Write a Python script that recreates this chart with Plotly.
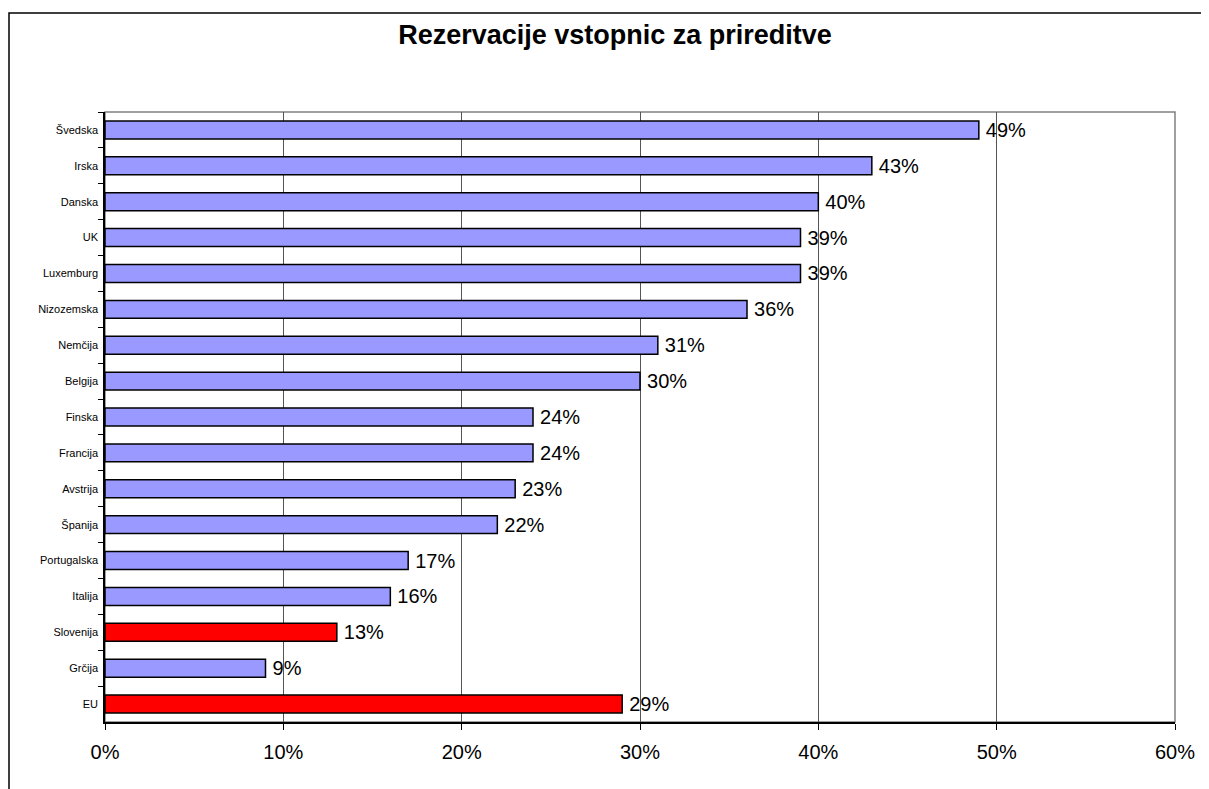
import plotly.graph_objects as go

categories = ["Švedska", "Irska", "Danska", "UK", "Luxemburg", "Nizozemska", "Nemčija",
              "Belgija", "Finska", "Francija", "Avstrija", "Španija", "Portugalska",
              "Italija", "Slovenija", "Grčija", "EU"]
values = [49, 43, 40, 39, 39, 36, 31, 30, 24, 24, 23, 22, 17, 16, 13, 9, 29]
highlight = ["Slovenija", "EU"]
x_ticks = [0, 10, 20, 30, 40, 50, 60]

FONT = "Arial, 'Liberation Sans', sans-serif"
BLUE = "#9999FF"
RED = "#FF0000"

colors = [RED if c in highlight else BLUE for c in categories]

# page body has an 8px default margin
OFF = 8
W, H = 1209 - OFF, 789 - OFF
L, T = 105 - OFF, 112 - OFF
R = W - (1175 - OFF)
B = H - (722 - OFF)
pw, ph = W - L - R, H - T - B

fig = go.Figure()
fig.add_trace(go.Bar(
    y=categories,
    x=[v / 100 for v in values],
    orientation="h",
    marker=dict(color=colors, line=dict(color="black", width=1.5)),
    text=[f"\u2009{v}%" for v in values],
    textposition="outside",
    constraintext="none",
    cliponaxis=False,
    textfont=dict(family=FONT, size=20, color="black"),
    hoverinfo="skip",
))

def px_x(p):
    return (p - OFF - L) / pw

def px_y(p):
    return (H - B - (p - OFF)) / ph

shapes = [
    dict(type="rect", xref="paper", yref="paper", x0=0, x1=1, y0=0, y1=1,
         line=dict(color="#808080", width=1.5), layer="below"),
    dict(type="rect", xref="paper", yref="paper",
         x0=px_x(9), x1=px_x(1220), y0=px_y(800), y1=px_y(13),
         line=dict(color="black", width=1.5), layer="above"),
]

fig.update_layout(
    width=W, height=H,
    margin=dict(l=L, r=R, t=T, b=B),
    paper_bgcolor="white", plot_bgcolor="white",
    showlegend=False,
    bargap=0.5,
    shapes=shapes,
    font=dict(family=FONT, color="black"),
    title=dict(text="<b>Rezervacije vstopnic za prireditve</b>",
               x=(615 - OFF) / W, xref="container", xanchor="center",
               y=1 - (35 - OFF) / H, yref="container", yanchor="middle",
               font=dict(family=FONT, size=27, color="black")),
)

fig.update_xaxes(
    range=[0, 0.6],
    tickvals=[t / 100 for t in x_ticks],
    ticktext=[f"{t}%" for t in x_ticks],
    ticks="outside", ticklen=6, tickcolor="black", tickwidth=1,
    showline=True, linecolor="black", linewidth=1.5,
    showgrid=True, gridcolor="#555555", gridwidth=1,
    zeroline=False,
    tickfont=dict(family=FONT, size=20, color="black"),
    ticklabelstandoff=5,
)
fig.update_yaxes(
    categoryorder="array", categoryarray=categories,
    autorange="reversed",
    tickson="boundaries",
    ticks="outside", ticklen=5, tickcolor="black", tickwidth=1,
    showline=True, linecolor="black", linewidth=1.5,
    showgrid=False, zeroline=False,
    tickfont=dict(family=FONT, size=11, color="black"),
    ticklabelstandoff=3,
)

fig.write_html("out.html")
